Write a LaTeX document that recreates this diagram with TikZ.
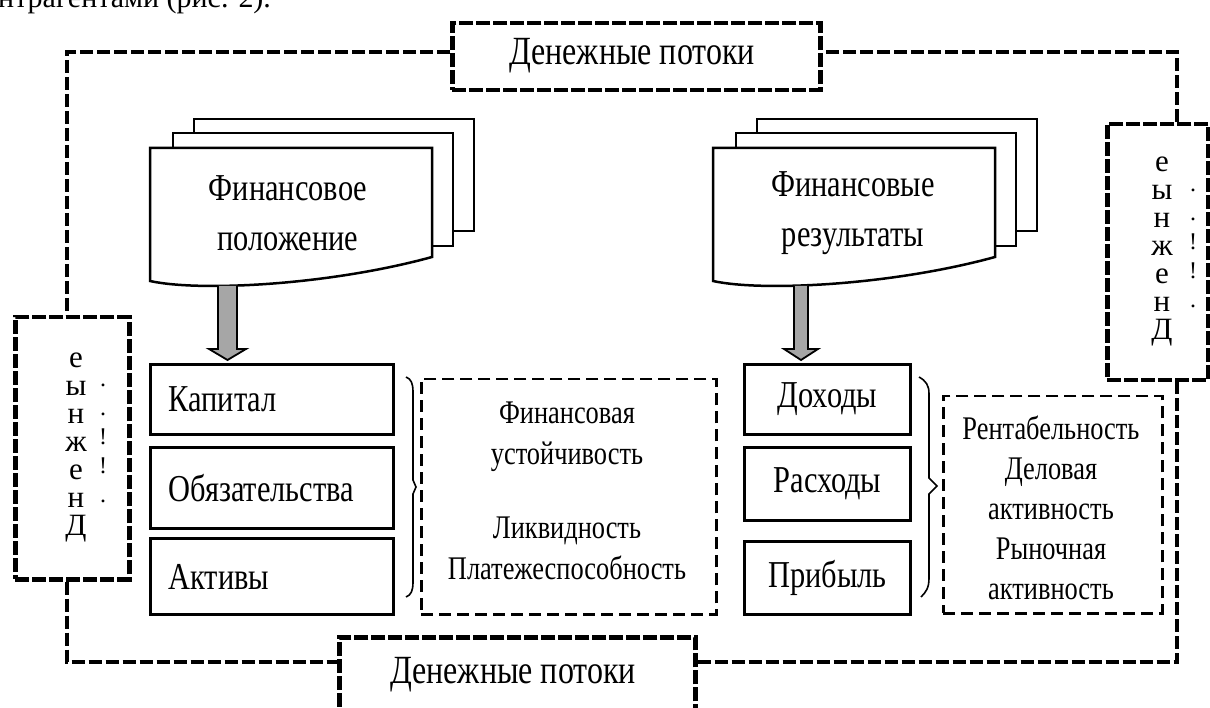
\documentclass[tikz,border=0pt]{standalone}
\usepackage{fontspec}
\setmainfont{Liberation Serif}
\newfontfamily\cf{Liberation Serif}[FakeStretch=0.8]
\usetikzlibrary{calc}
\begin{document}
\begin{tikzpicture}[x=1pt,y=-1pt,
  box/.style={draw, line width=3pt, inner sep=0pt, anchor=north west, fill=white},
  bigtxt/.style={font=\cf\fontsize{38}{46}\selectfont},
  midtxt/.style={font=\cf\fontsize{33}{41}\selectfont, align=center},
  doctxt/.style={font=\cf\fontsize{38}{50}\selectfont, align=center},
  docpage/.style={draw, fill=white, line width=2.5pt, line join=miter},
  garrow/.style={draw, fill=gray!70, line width=1.8pt, line join=miter},
  frame/.style={line width=3.8pt, dash pattern=on 13pt off 4pt},
  money/.style={draw, line width=4.5pt, dash pattern=on 14pt off 3pt, inner sep=0pt, anchor=north west, fill=white},
  dbox/.style={draw, line width=2.5pt, dash pattern=on 12pt off 6pt, inner sep=0pt, anchor=north west},
  vtxt/.style={font=\fontsize{31}{28}\selectfont, align=center, inner sep=0pt},
  vmark/.style={font=\fontsize{24}{29}\selectfont, align=center, inner sep=0pt},
  brk/.style={draw, line width=1.6pt}
]
\useasboundingbox (0,0) rectangle (1210,708);

% partial text line at the top
\node[anchor=base west, inner sep=0pt, font=\fontsize{30}{30}\selectfont] (intro) at (-2,8) {нтрагентами (рис. 2).};

% corners of the outer frame
\coordinate (cTL) at (67,52);
\coordinate (cBL) at (67,662);
\coordinate (cBR) at (1177,662);
\coordinate (cTR) at (1177,52);

% money boxes
\node[money, minimum width=368pt, minimum height=67pt] (topbox) at (450,21) {};
\node[bigtxt, font=\cf\fontsize{40}{46}\selectfont] (toptxt) at (632,56) {Денежные потоки};
\node[money, minimum width=356pt, minimum height=82pt] (botbox) at (337,635) {};
\node[bigtxt, font=\cf\fontsize{40}{46}\selectfont] (bottxt) at (513,675) {Денежные потоки};
\node[money, minimum width=114pt, minimum height=262pt] (leftbox) at (13,315) {};
\node[vtxt] (lv1) at (76,447) {е\\ы\\н\\ж\\е\\н\\Д};
\node[vmark] (lv2) at (103,443) {.\\.\\!\\!\\.};
\node[money, minimum width=101pt, minimum height=256pt] (rightbox) at (1105,122) {};
\node[vtxt] (rv1) at (1162,251) {е\\ы\\н\\ж\\е\\н\\Д};
\node[vmark] (rv2) at (1193,248) {.\\.\\!\\!\\.};

% outer frame connectors
\draw[frame] (topbox.west |- cTL) -- (cTL) -- (leftbox.north -| cTL);
\draw[frame] (leftbox.south -| cBL) -- (cBL) -- (botbox.west |- cBL);
\draw[frame] (botbox.east |- cBR) -- (cBR) -- (rightbox.south -| cBR);
\draw[frame] (rightbox.north -| cTR) -- (cTR) -- (topbox.east |- cTR);

% left document stack
\draw[docpage] (194,119) rectangle (474,231);
\draw[docpage] (173,133) rectangle (453,246);
\draw[docpage] (150,148) -- (432,148) -- (432,257) .. controls (330,285) and (200,292) .. (150,281) -- cycle;
\node[doctxt] (fp) at (288,213) {Финансовое\\положение};

% right document stack
\draw[docpage] (757,119) rectangle (1037,231);
\draw[docpage] (736,133) rectangle (1016,246);
\draw[docpage] (713,148) -- (995,148) -- (995,257) .. controls (893,285) and (763,292) .. (713,281) -- cycle;
\node[doctxt] (fr) at (853,213) {Финансовые\\результаты};

% left boxes
\node[box, bigtxt, minimum width=243pt, minimum height=70pt, text width=207pt, inner xsep=18pt, align=left] (cap) at (149,363) {Капитал};
\node[box, bigtxt, minimum width=243pt, minimum height=81pt, text width=207pt, inner xsep=18pt, align=left] (obl) at (149,446) {Обязательства};
\node[box, bigtxt, minimum width=243pt, minimum height=76pt, text width=207pt, inner xsep=18pt, align=left] (akt) at (149,537) {Активы};

% right boxes
\node[box, bigtxt, minimum width=166pt, minimum height=70pt] (doh) at (743,363) {Доходы};
\node[box, bigtxt, minimum width=166pt, minimum height=73pt] (ras) at (743,446) {Расходы};
\node[box, bigtxt, minimum width=166pt, minimum height=73pt] (pri) at (743,540) {Прибыль};

% dashed result boxes
\node[dbox, minimum width=295pt, minimum height=235pt] (d1) at (420,378) {};
\node[midtxt] (d1t) at (567,491) {Финансовая\\устойчивость\\[33pt]Ликвидность\\Платежеспособность};
\node[dbox, minimum width=219pt, minimum height=217pt] (d2) at (942,395) {};
\node[midtxt, font=\cf\fontsize{33}{40}\selectfont] (d2t) at (1051,508) {Рентабельность\\Деловая\\активность\\Рыночная\\активность};

% gray arrows
\coordinate (a1) at (227.5,286);
\draw[garrow] ($(a1)+(-9.5,0)$) -- ($(cap.north -| a1)+(-9.5,-14)$) -- ++(-9,0)
  -- ($(cap.north -| a1)+(0,-3)$) -- ($(cap.north -| a1)+(18.5,-14)$) -- ++(-9,0)
  -- ($(a1)+(9.5,0)$);
\coordinate (a2) at (801,286);
\draw[garrow] ($(a2)+(-7,0)$) -- ($(doh.north -| a2)+(-7,-14)$) -- ++(-10,0)
  -- ($(doh.north -| a2)+(0,-3)$) -- ($(doh.north -| a2)+(17,-14)$) -- ++(-10,0)
  -- ($(a2)+(7,0)$);

% brackets
\draw[brk] (406,377) .. controls (411,379) and (413,383) .. (413,392) -- (413,480) -- (416,487) -- (413,494)
  -- (413,582) .. controls (413,591) and (411,595) .. (406,597);
\draw[brk] (919,377) .. controls (926,381) and (929,385) .. (929,394) -- (929,478) -- (937,486) -- (929,494)
  -- (929,578) .. controls (929,588) and (926,592) .. (921,597);
\end{tikzpicture}
\end{document}
